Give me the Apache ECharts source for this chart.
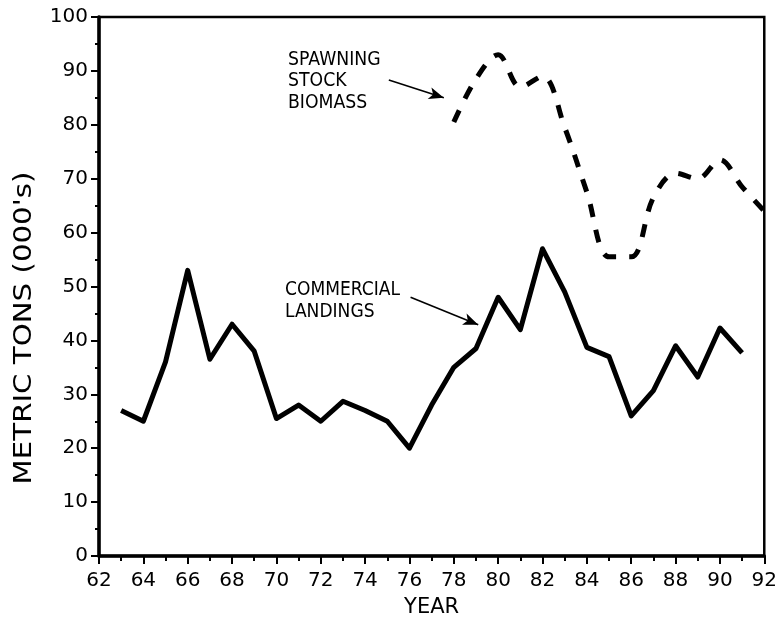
<!DOCTYPE html>
<html>
<head>
<meta charset="utf-8">
<title>Metric tons</title>
<script src="https://cdn.jsdelivr.net/npm/echarts@6/dist/echarts.min.js"></script>
<style>
    html, body { margin: 0; padding: 0; background: #fff; }
    #main { width: 780px; height: 623px; }
</style>
</head>
<body>
<div id="main"></div>
<script type="text/javascript">
    // commercial landings, 1963-1991
    var landYears = [63, 64, 65, 66, 67, 68, 69, 70, 71, 72, 73, 74, 75, 76, 77,
                     78, 79, 80, 81, 82, 83, 84, 85, 86, 87, 88, 89, 90, 91];
    var landings = [27, 25, 36, 53, 36.5, 43, 38, 25.5, 28, 25, 28.7, 27, 25, 20, 28,
                    35, 38.5, 48, 42, 57, 49, 38.7, 37, 26, 30.7, 39, 33.2, 42.3, 37.7];

    // spawning stock biomass, 1978-1992
    var ssbYears = [78, 79, 80, 81, 82, 83, 84, 85, 86, 87, 88, 89, 90, 91, 92];
    var ssb = [80.5, 88.5, 93, 87, 89, 79.5, 67.5, 55.5, 55.5, 66.5, 71, 70, 73.5, 68.5, 64];

    var yTicks = [0, 10, 20, 30, 40, 50, 60, 70, 80, 90, 100];
    var xTicks = [62, 64, 66, 68, 70, 72, 74, 76, 78, 80, 82, 84, 86, 88, 90, 92];

    function pairs(xs, ys) {
        var out = [];
        for (var i = 0; i < xs.length; i++) out.push([xs[i], ys[i]]);
        return out;
    }

    var FONT = 'DejaVu Sans';
    var chart = echarts.init(document.getElementById('main'));

    var option = {
        animation: false,
        backgroundColor: '#fff',
        grid: {
            left: 99, right: 13, top: 17, bottom: 60,
            show: true, borderColor: '#000', borderWidth: 2.5
        },
        xAxis: {
            type: 'value',
            min: xTicks[0], max: xTicks[xTicks.length - 1], interval: 2,
            name: 'YEAR',
            nameLocation: 'middle',
            nameGap: 41,
            nameTextStyle: { fontFamily: FONT, fontSize: 21, color: '#000' },
            axisLine: { show: true, lineStyle: { color: '#000', width: 3.5 } },
            axisTick: { show: true, length: 8, lineStyle: { color: '#000', width: 2 } },
            minorTick: { show: true, splitNumber: 2, length: 5, lineStyle: { color: '#000', width: 2 } },
            splitLine: { show: false },
            axisLabel: { fontFamily: FONT, fontSize: 20, color: '#000', margin: 15 }
        },
        yAxis: {
            type: 'value',
            min: yTicks[0], max: yTicks[yTicks.length - 1], interval: 10,
            axisLine: { show: true, lineStyle: { color: '#000', width: 3.5 } },
            axisTick: { show: true, length: 8, lineStyle: { color: '#000', width: 2 } },
            minorTick: { show: true, splitNumber: 2, length: 4, lineStyle: { color: '#000', width: 2 } },
            splitLine: { show: false },
            axisLabel: { fontFamily: FONT, fontSize: 20, color: '#000', margin: 11 }
        },
        graphic: [
            {
                type: 'text', x: 24, y: 328, rotation: Math.PI / 2, scaleX: 1.17,
                style: {
                    text: "METRIC TONS (000's)", fontFamily: FONT, fontSize: 25, fill: '#000',
                    align: 'center', verticalAlign: 'middle',
                    textAlign: 'center', textVerticalAlign: 'middle'
                }
            },
            {
                type: 'text', x: 288, y: 49, scaleX: 0.91,
                style: {
                    text: 'SPAWNING\nSTOCK\nBIOMASS', fontFamily: FONT, fontSize: 19,
                    lineHeight: 21.5, fill: '#000', align: 'left', verticalAlign: 'top'
                }
            },
            {
                type: 'text', x: 285, y: 279, scaleX: 0.9,
                style: {
                    text: 'COMMERCIAL\nLANDINGS', fontFamily: FONT, fontSize: 19,
                    lineHeight: 22, fill: '#000', align: 'left', verticalAlign: 'top'
                }
            }
        ],
        series: [
            {
                name: 'COMMERCIAL LANDINGS',
                type: 'line',
                data: pairs(landYears, landings),
                showSymbol: false,
                lineStyle: { color: '#000', width: 5, join: 'round' },
                markLine: {
                    silent: true,
                    symbol: ['none', 'arrow'],
                    symbolSize: [9, 15],
                    label: { show: false },
                    lineStyle: { color: '#000', width: 1.6, type: 'solid' },
                    data: [[{ coord: [76.05, 48.0] }, { coord: [79.1, 42.9] }]]
                }
            },
            {
                name: 'SPAWNING STOCK BIOMASS',
                type: 'line',
                data: pairs(ssbYears, ssb),
                smooth: 0.35,
                showSymbol: false,
                lineStyle: { color: '#000', width: 5, type: [13, 13] },
                markLine: {
                    silent: true,
                    symbol: ['none', 'arrow'],
                    symbolSize: [9, 15],
                    label: { show: false },
                    lineStyle: { color: '#000', width: 1.6, type: 'solid' },
                    data: [[{ coord: [75.07, 88.3] }, { coord: [77.55, 85.0] }]]
                }
            }
        ]
    };
    chart.setOption(option);
</script>
</body>
</html>
